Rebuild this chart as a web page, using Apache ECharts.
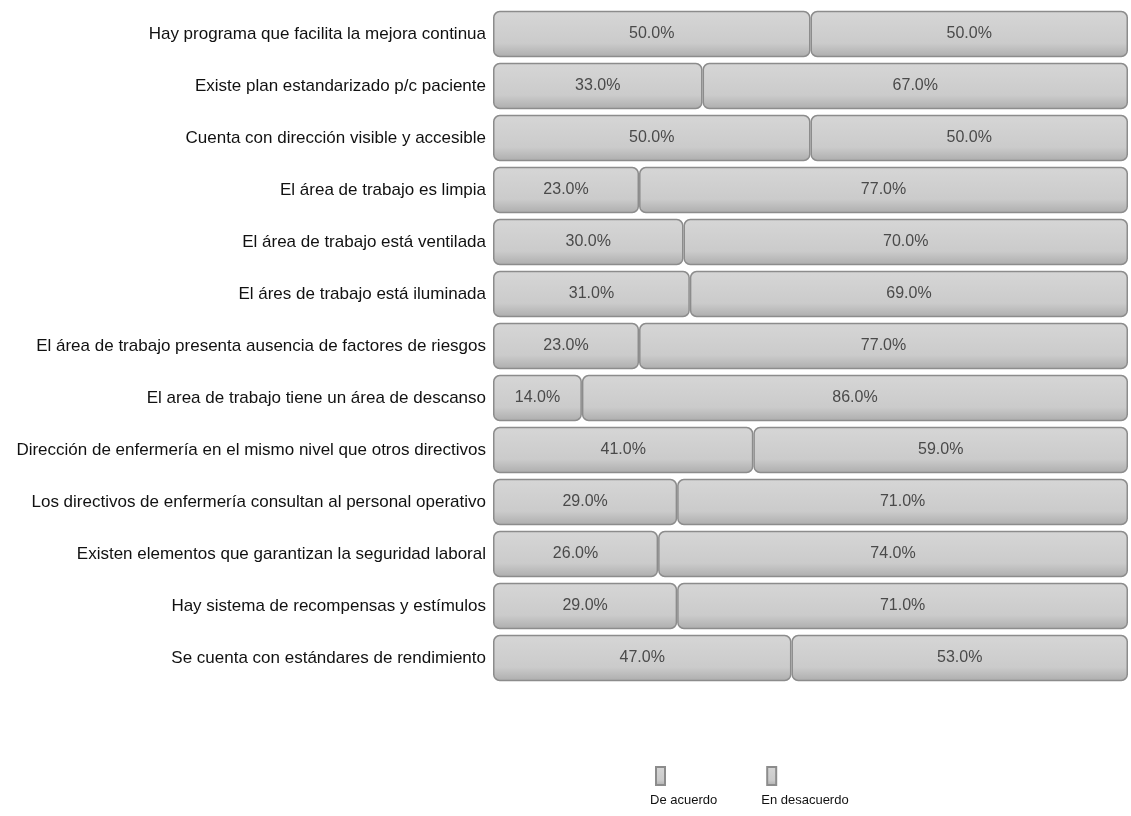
<!DOCTYPE html>
<html lang="es">
  <head>
    <meta charset="UTF-8" />
    <title>Condiciones del área de trabajo</title>
    <script src="https://cdn.jsdelivr.net/npm/echarts@6/dist/echarts.min.js"></script>
    <style>
      html, body { margin: 0; padding: 0; background: #fff; }
      #chart { width: 1131px; height: 816px; }
    </style>
  </head>
  <body>
    <div id="chart"></div>
    <script>
      // categorías (de arriba hacia abajo)
      var categorias = [
        "Hay programa que facilita la mejora continua",
        "Existe plan estandarizado p/c paciente",
        "Cuenta con dirección visible y accesible",
        "El área de trabajo es limpia",
        "El área de trabajo está ventilada",
        "El áres de trabajo está iluminada",
        "El área de trabajo presenta ausencia de factores de riesgos",
        "El area de trabajo tiene un área de descanso",
        "Dirección de enfermería en el mismo nivel que otros directivos",
        "Los directivos de enfermería consultan al personal operativo",
        "Existen elementos que garantizan la seguridad laboral",
        "Hay sistema de recompensas y estímulos",
        "Se cuenta con estándares de rendimiento"
      ];
      var deAcuerdo = [50, 33, 50, 23, 30, 31, 23, 14, 41, 29, 26, 29, 47];
      var enDesacuerdo = [50, 67, 50, 77, 70, 69, 77, 86, 59, 71, 74, 71, 53];
      var series = ["De acuerdo", "En desacuerdo"];

      var myChart = echarts.init(document.getElementById("chart"));

      // relleno gris con un poco de relieve
      function relleno() {
        return new echarts.graphic.LinearGradient(0, 0, 0, 1, [
          { offset: 0, color: "#d6d6d6" },
          { offset: 0.7, color: "#cbcbcb" },
          { offset: 1, color: "#adadad" }
        ]);
      }

      function serie(nombre, datos) {
        return {
          name: nombre,
          type: "bar",
          stack: "total",
          barWidth: "89%",
          itemStyle: {
            color: relleno(),
            borderColor: "#8c8c8c",
            borderWidth: 1.5,
            borderRadius: 6
          },
          label: {
            show: true,
            position: "inside",
            fontSize: 16,
            color: "#4a4a4a",
            formatter: function (p) {
              return p.value.toFixed(1) + "%";
            }
          },
          data: datos
        };
      }

      var option = {
        animation: false,
        color: ["#a0a0a0", "#bdbdbd"],
        textStyle: {
          fontFamily: "Liberation Sans, Arial, sans-serif"
        },
        grid: {
          left: 493,
          right: 3,
          top: 8,
          bottom: 132
        },
        xAxis: {
          type: "value",
          min: 0,
          max: 100,
          show: false
        },
        yAxis: {
          type: "category",
          inverse: true,
          data: categorias,
          axisLine: { show: false },
          axisTick: { show: false },
          axisLabel: {
            margin: 7,
            fontSize: 17,
            color: "#111"
          }
        },
        legend: {
          data: series,
          top: 735,
          left: 645,
          itemGap: 44,
          itemWidth: 9,
          itemHeight: 18,
          icon: "rect",
          formatter: function (name) {
            return "\n\n" + name;
          },
          textStyle: {
            fontSize: 13,
            lineHeight: 24,
            color: "#111",
            padding: [0, 0, 0, -20]
          }
        },
        series: [serie(series[0], deAcuerdo), serie(series[1], enDesacuerdo)]
      };

      myChart.setOption(option);
    </script>
  </body>
</html>
